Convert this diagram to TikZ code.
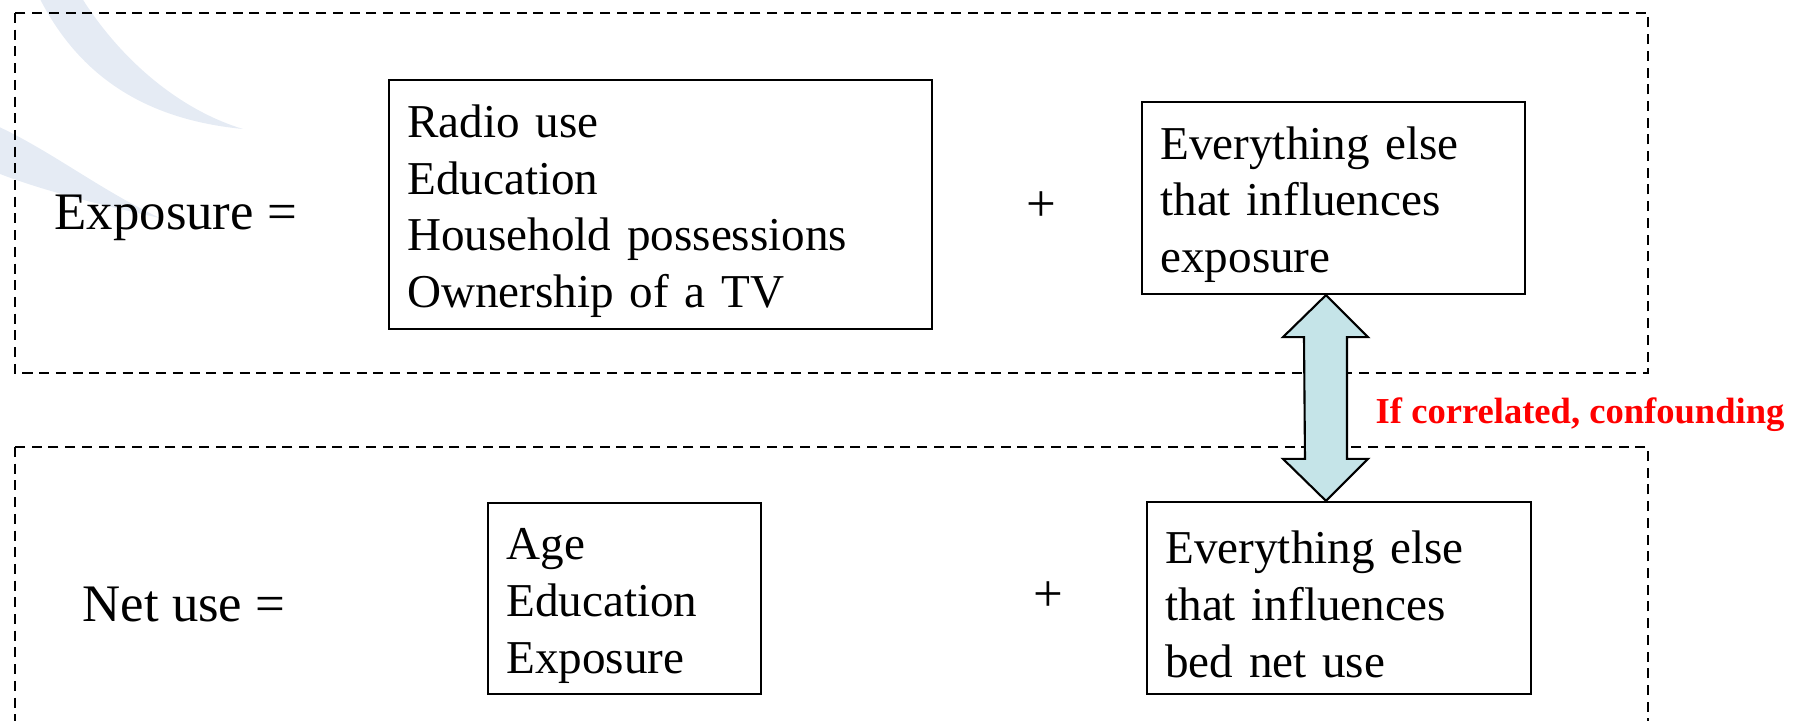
\documentclass[tikz,border=0pt]{standalone}
\usepackage{fontspec}
\setmainfont{Liberation Serif}
\usetikzlibrary{calc}

\definecolor{swoosh}{RGB}{229,235,244}
\definecolor{arrowfill}{RGB}{197,228,232}

\begin{document}
\begin{tikzpicture}[x=0.01cm, y=-0.01cm,
    box/.style={draw, line width=0.6pt, align=left, inner xsep=0.185cm, inner ysep=0pt,
        text height=0.46cm, font=\fontsize{13.4}{16.2}\selectfont},
    lhs/.style={anchor=base west, inner sep=0pt, font=\fontsize{15}{18}\selectfont},
    plus/.style={inner sep=0pt, font=\fontsize{15}{18}\selectfont},
    dashbox/.style={line width=0.5pt, dash pattern=on 2.85pt off 1.9pt}]

    \useasboundingbox (0,0) rectangle (1793,721);

    % 背景の模様
    \fill[swoosh] (38,-5) .. controls (80,80) and (150,120) .. (243,129)
        .. controls (180,110) and (120,60) .. (80,-5) -- cycle;
    \fill[swoosh] (-5,125) .. controls (50,150) and (100,190) .. (160,218)
        .. controls (100,205) and (40,190) .. (-5,172) -- cycle;

    % 点線の枠
    \draw[dashbox] (15,13) rectangle (1648,373);
    \draw[dashbox] (15,447) rectangle (1648,740);

    % 上の式
    \node[lhs] (explab) at (54,229) {Exposure =};
    \node[box, text width=5.06cm, minimum height=2.49cm] (expfac) at (660.5,204.5)
        {Radio use\\Education\\Household possessions\\Ownership of a TV};
    \node[plus] (expplus) at (1041,207) {+};
    \node[box, text width=3.46cm, minimum height=1.92cm] (expelse) at (1333.5,198)
        {Everything else\\that influences\\exposure};

    % 下の式
    \node[lhs] (netlab) at (82,621) {Net use =};
    \node[box, text width=2.36cm, minimum height=1.91cm] (netfac) at (624.5,598.5)
        {Age\\Education\\Exposure};
    \node[plus] (netplus) at (1048,597) {+};
    \node[box, text width=3.47cm, minimum height=1.92cm] (netelse) at (1339,598)
        {Everything else\\that influences\\bed net use};

    % 両向きの矢印
    \coordinate (atop) at ([xshift=-0.075cm]expelse.south);
    \coordinate (abot) at (atop |- netelse.north);
    \draw[line width=0.6pt, fill=arrowfill] (atop) -- ++(42,42) -- ++(-21,0)
        -- ($(abot)+(21,-42)$) -- ++(21,0) -- (abot) -- ++(-43,-42) -- ++(22,0)
        -- ($(atop)+(-22,42)$) -- ++(-21,0) -- cycle;
    \node[anchor=base west, inner sep=0pt, text=red, font=\fontsize{10.4}{12}\selectfont\bfseries]
        (confound) at (1375,423) {If correlated, confounding};

\end{tikzpicture}
\end{document}
